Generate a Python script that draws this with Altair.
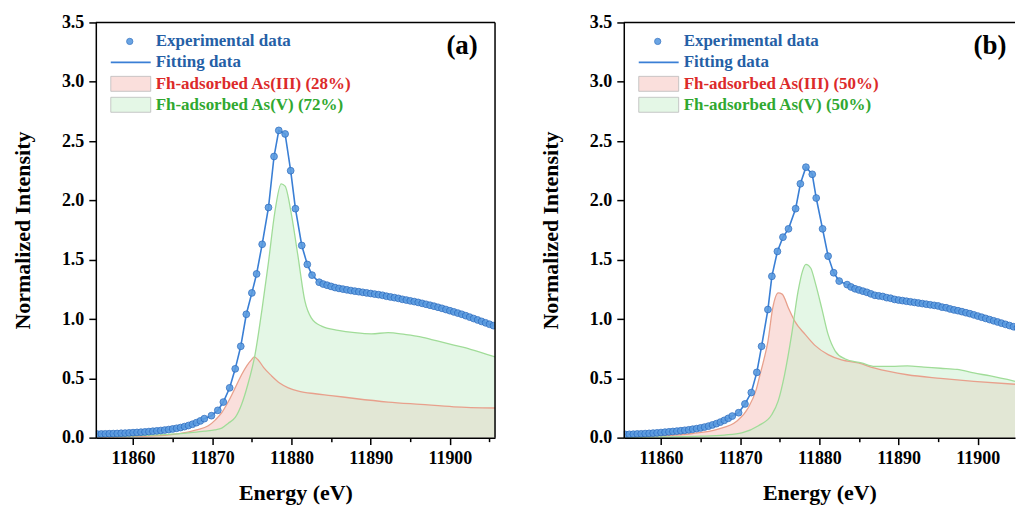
import altair as alt
import pandas as pd

# ---------------- data ----------------
PRE_E = [11855.5, 11856.0, 11856.5, 11857.0, 11857.5, 11858.0, 11858.5, 11859.0, 11859.5, 11860.0,
         11860.5, 11861.0, 11861.5, 11862.0, 11862.5, 11863.0, 11863.5, 11864.0, 11864.5, 11865.0,
         11865.5, 11866.0, 11866.5, 11867.0, 11867.5, 11868.0, 11868.5, 11869.0]
POST_E = [11883.5, 11884.0, 11884.5, 11885.0, 11885.5, 11886.0, 11886.5, 11887.0, 11887.5, 11888.0,
          11888.5, 11889.0, 11889.5, 11890.0, 11890.5, 11891.0, 11891.5, 11892.0, 11892.5, 11893.0,
          11893.5, 11894.0, 11894.5, 11895.0, 11895.5, 11896.0, 11896.5, 11897.0, 11897.5, 11898.0,
          11898.5, 11899.0, 11899.5, 11900.0, 11900.5, 11901.0, 11901.5, 11902.0, 11902.5, 11903.0,
          11903.5, 11904.0, 11904.5, 11905.0, 11905.5]

# panel (a) experimental data
PRE_A = [0.030, 0.031, 0.032, 0.033, 0.034, 0.035, 0.037, 0.038, 0.040, 0.042,
         0.044, 0.046, 0.048, 0.051, 0.054, 0.057, 0.060, 0.064, 0.068, 0.073,
         0.079, 0.085, 0.093, 0.102, 0.113, 0.126, 0.141, 0.160]
EDGE_A_E = [11869.9, 11870.7, 11871.4, 11872.2, 11872.9, 11873.6, 11874.3, 11875.0, 11875.6, 11876.3,
            11877.1, 11877.8, 11878.4, 11879.2, 11879.9, 11880.5, 11881.3, 11882.0, 11882.6]
EDGE_A = [0.185, 0.23, 0.30, 0.42, 0.58, 0.77, 1.04, 1.22, 1.38, 1.63,
          1.94, 2.37, 2.59, 2.56, 2.25, 1.93, 1.62, 1.46, 1.37]
POST_A = [1.310, 1.295, 1.285, 1.275, 1.265, 1.258, 1.252, 1.246, 1.240, 1.235,
          1.230, 1.225, 1.220, 1.215, 1.210, 1.205, 1.200, 1.192, 1.186, 1.180,
          1.174, 1.166, 1.160, 1.153, 1.147, 1.140, 1.132, 1.124, 1.116, 1.108,
          1.099, 1.090, 1.080, 1.070, 1.060, 1.050, 1.040, 1.028, 1.016, 1.004,
          0.992, 0.980, 0.968, 0.956, 0.944]

# panel (b) experimental data
PRE_B = [0.027, 0.028, 0.029, 0.031, 0.032, 0.034, 0.036, 0.038, 0.040, 0.043,
         0.046, 0.049, 0.052, 0.055, 0.058, 0.062, 0.066, 0.071, 0.076, 0.082,
         0.089, 0.097, 0.107, 0.118, 0.131, 0.146, 0.163, 0.182]
EDGE_B_E = [11869.8, 11870.6, 11871.4, 11872.1, 11872.7, 11873.5, 11874.0, 11874.7, 11875.4, 11876.1,
            11877.0, 11877.6, 11878.3, 11879.1, 11879.6, 11880.4, 11881.1, 11881.8, 11882.5]
EDGE_B = [0.21, 0.284, 0.38, 0.55, 0.77, 1.08, 1.36, 1.57, 1.69, 1.76,
          1.93, 2.14, 2.28, 2.22, 2.02, 1.76, 1.53, 1.39, 1.32]
POST_B = [1.290, 1.270, 1.255, 1.245, 1.235, 1.225, 1.212, 1.200, 1.195, 1.190,
          1.180, 1.175, 1.165, 1.160, 1.155, 1.150, 1.145, 1.140, 1.135, 1.130,
          1.125, 1.120, 1.115, 1.110, 1.100, 1.095, 1.085, 1.077, 1.070, 1.062,
          1.053, 1.045, 1.035, 1.025, 1.015, 1.005, 0.995, 0.985, 0.975, 0.965,
          0.955, 0.945, 0.935, 0.925, 0.915]

# weighted components, panel (a)
RED_A_E = [11855.5, 11860.0, 11864.0, 11866.0, 11868.0, 11869.5, 11870.4, 11871.2, 11872.0, 11872.9,
           11873.7, 11874.4, 11875.0, 11875.3, 11875.8, 11876.5, 11877.5, 11878.5, 11879.6, 11881.0,
           11883.0, 11885.0, 11888.0, 11892.2, 11896.3, 11900.5, 11905.7]
RED_A = [0.005, 0.010, 0.020, 0.035, 0.065, 0.10, 0.15, 0.21, 0.30, 0.42,
         0.53, 0.61, 0.66, 0.68, 0.655, 0.59, 0.52, 0.46, 0.42, 0.39,
         0.37, 0.355, 0.33, 0.30, 0.28, 0.26, 0.25]
GRN_A_E = [11855.5, 11860.0, 11864.0, 11867.0, 11869.0, 11870.3, 11871.2, 11872.0, 11872.9, 11873.7,
           11874.5, 11875.4, 11876.3, 11877.1, 11877.9, 11878.7, 11879.2, 11880.0, 11880.8, 11881.7,
           11882.5, 11883.8, 11885.9, 11888.0, 11890.1, 11892.2, 11894.3, 11896.3, 11898.4, 11900.5,
           11902.6, 11905.7]
GRN_A = [0.010, 0.015, 0.025, 0.040, 0.055, 0.065, 0.08, 0.12, 0.17, 0.28,
         0.45, 0.70, 1.09, 1.48, 1.90, 2.14, 2.12, 1.88, 1.54, 1.15,
         1.01, 0.94, 0.905, 0.885, 0.875, 0.885, 0.87, 0.85, 0.815, 0.78,
         0.745, 0.68]

# weighted components, panel (b)
RED_B_E = [11855.5, 11860.0, 11864.0, 11867.1, 11869.6, 11871.0, 11872.0, 11872.5, 11873.0, 11873.5,
           11874.1, 11874.8, 11875.3, 11876.1, 11876.9, 11878.2, 11879.4, 11881.1, 11882.8, 11884.9,
           11887.0, 11891.1, 11895.3, 11899.5, 11904.7]
RED_B = [0.008, 0.015, 0.035, 0.07, 0.14, 0.25, 0.40, 0.53, 0.66, 0.81,
         1.09, 1.22, 1.21, 1.09, 0.98, 0.87, 0.78, 0.70, 0.655, 0.63,
         0.585, 0.53, 0.50, 0.475, 0.45]
GRN_B_E = [11855.5, 11860.0, 11865.0, 11868.0, 11870.2, 11872.3, 11874.0, 11874.8, 11875.6, 11876.5,
           11877.3, 11877.9, 11878.3, 11878.9, 11879.5, 11880.3, 11881.1, 11882.0, 11883.2, 11885.3,
           11887.0, 11889.1, 11891.1, 11893.2, 11895.3, 11897.4, 11899.5, 11901.6, 11904.7]
GRN_B = [0.003, 0.006, 0.012, 0.022, 0.04, 0.10, 0.195, 0.31, 0.53, 0.87,
         1.23, 1.41, 1.46, 1.43, 1.30, 1.09, 0.87, 0.73, 0.665, 0.63,
         0.60, 0.60, 0.605, 0.595, 0.585, 0.575, 0.545, 0.52, 0.475]

LABELS_A = ["Experimental data", "Fitting data", "Fh-adsorbed As(III) (28%)", "Fh-adsorbed As(V) (72%)"]
LABELS_B = ["Experimental data", "Fitting data", "Fh-adsorbed As(III) (50%)", "Fh-adsorbed As(V) (50%)"]

X_TICKS = [11860, 11865, 11870, 11875, 11880, 11885, 11890, 11895, 11900, 11905]
Y_TICKS = [0.0, 0.25, 0.5, 0.75, 1.0, 1.25, 1.5, 1.75, 2.0, 2.25, 2.5, 2.75, 3.0, 3.25, 3.5]

# ---------------- styling ----------------
FONT = "Liberation Serif"
H = 416
BLUE_TXT = "#2560a6"
BLUE_LINE = "#3a7fd5"
PT_FILL = "#5a9be0"
PT_STROKE = "#2f6fc0"
RED_FILL = "#f0968c"
RED_LINE = "#e8a08c"
GRN_FILL = "#c9efcd"
GRN_LINE = "#a0dc98"
RED_TXT = "#dc2a2a"
GRN_TXT = "#30a830"


def one(label):
    return pd.DataFrame({"t": [label]})


def panel(exp_E, exp_I, red_E, red_I, grn_E, grn_I, labels, tag, width, xdom, right_border):
    exp_df = pd.DataFrame({"E": exp_E, "I": exp_I})
    red_df = pd.DataFrame({"E": red_E, "I": red_I})
    grn_df = pd.DataFrame({"E": grn_E, "I": grn_I})

    xs = alt.Scale(domain=xdom, nice=False, zero=False)
    ys = alt.Scale(domain=[0, 3.5], nice=False)
    xt = [v for v in X_TICKS if xdom[0] <= v <= xdom[1]]

    xaxis = alt.Axis(values=xt, format="d", title="Energy (eV)",
                     labelExpr="datum.value % 10 == 0 ? datum.label : ''",
                     tickSize={"condition": {"test": "datum.value % 10 != 0", "value": 4}, "value": 7},
                     labelPadding=5, titlePadding=15, labelFlush=False, labelOverlap=False,
                     grid=False, zindex=1)
    yaxis = alt.Axis(values=Y_TICKS, format=".1f", title="Normalized Intensity",
                     labelExpr="datum.value % 0.5 == 0 ? datum.label : ''",
                     tickSize={"condition": {"test": "datum.value % 0.5 != 0", "value": 4}, "value": 7},
                     labelPadding=5, titlePadding=27, labelOverlap=False, grid=False, zindex=1)

    X = alt.X("E:Q", scale=xs, axis=xaxis)
    Y = alt.Y("I:Q", scale=ys, axis=yaxis)
    Xn = alt.X("E:Q", scale=xs)
    Yn = alt.Y("I:Q", scale=ys)

    red_area = alt.Chart(red_df).mark_area(color=RED_FILL, opacity=0.3, interpolate="monotone", clip=True).encode(x=X, y=Y)
    grn_area = alt.Chart(grn_df).mark_area(color=GRN_FILL, opacity=0.5, interpolate="monotone", clip=True).encode(x=Xn, y=Yn)
    red_line = alt.Chart(red_df).mark_line(color=RED_LINE, strokeWidth=1.3, interpolate="monotone", clip=True).encode(x=Xn, y=Yn)
    grn_line = alt.Chart(grn_df).mark_line(color=GRN_LINE, strokeWidth=1.3, interpolate="monotone", clip=True).encode(x=Xn, y=Yn)
    fit_line = alt.Chart(exp_df).mark_line(color=BLUE_LINE, strokeWidth=1.6, clip=True).encode(x=Xn, y=Yn)
    pts = alt.Chart(exp_df).mark_point(filled=True, size=46, fill=PT_FILL, stroke=PT_STROKE, strokeWidth=0.9,
                                       opacity=0.9, clip=True).encode(x=Xn, y=Yn)

    # frame
    top = alt.Chart(one("top")).mark_rule(color="black", strokeWidth=1.5).encode(
        x=alt.value(0), x2=alt.value(width), y=alt.value(0))
    frame = [top]
    if right_border:
        frame.append(alt.Chart(one("right")).mark_rule(color="black", strokeWidth=1.5).encode(
            x=alt.value(width), y=alt.value(0), y2=alt.value(H)))

    # legend (drawn inside the plot)
    lx0, lx1, tx = 15, 55, 60
    rows = [19, 40, 61.5, 82.5]
    leg = [
        alt.Chart(one(labels[0])).mark_point(filled=True, size=40, fill=PT_FILL, stroke=PT_STROKE,
                                             strokeWidth=0.8, opacity=0.9).encode(
            x=alt.value((lx0 + lx1) / 2 - 1), y=alt.value(rows[0])),
        alt.Chart(one(labels[1])).mark_rule(color=BLUE_LINE, strokeWidth=1.6).encode(
            x=alt.value(lx0), x2=alt.value(lx1), y=alt.value(rows[1])),
        alt.Chart(one(labels[2])).mark_rect(fill=RED_FILL, fillOpacity=0.3, stroke="#bbbbbb", strokeWidth=0.8).encode(
            x=alt.value(lx0), x2=alt.value(lx1), y=alt.value(rows[2] - 7.5), y2=alt.value(rows[2] + 7.5)),
        alt.Chart(one(labels[3])).mark_rect(fill=GRN_FILL, fillOpacity=0.5, stroke="#bbbbbb", strokeWidth=0.8).encode(
            x=alt.value(lx0), x2=alt.value(lx1), y=alt.value(rows[3] - 7.5), y2=alt.value(rows[3] + 7.5)),
    ]
    for lab, r, col in zip(labels, rows, [BLUE_TXT, BLUE_TXT, RED_TXT, GRN_TXT]):
        leg.append(alt.Chart(one(lab)).mark_text(font=FONT, fontSize=17, fontWeight="bold", color=col,
                                                 align="left", baseline="middle").encode(
            x=alt.value(tx), y=alt.value(r), text="t:N"))
    leg.append(alt.Chart(one(tag)).mark_text(font=FONT, fontSize=27, fontWeight="bold", color="black",
                                             align="center", baseline="middle").encode(
        x=alt.value(367), y=alt.value(24), text="t:N"))

    return alt.layer(red_area, grn_area, red_line, grn_line, fit_line, pts, *frame, *leg).properties(
        width=width, height=H)


pa = panel(PRE_E + EDGE_A_E + POST_E, PRE_A + EDGE_A + POST_A, RED_A_E, RED_A, GRN_A_E, GRN_A,
           LABELS_A, "(a)", 400, [11855.3, 11905.7], True)
pb = panel(PRE_E + EDGE_B_E + POST_E, PRE_B + EDGE_B + POST_B, RED_B_E, RED_B, GRN_B_E, GRN_B,
           LABELS_B, "(b)", 392, [11855.3, 11904.7], False)

chart = alt.hconcat(pa, pb, spacing=42).properties(
    padding={"left": 11, "top": 12, "right": 0, "bottom": 0}
).configure_view(stroke="transparent").configure_axis(
    labelFont=FONT, titleFont=FONT, labelFontWeight="bold", titleFontWeight="bold",
    labelFontSize=18, titleFontSize=22, labelColor="black", titleColor="black",
    domainColor="black", domainWidth=1.5, tickColor="black", tickWidth=1.5
)

chart.save("out.html", embed_options={"renderer": "svg", "actions": False})
